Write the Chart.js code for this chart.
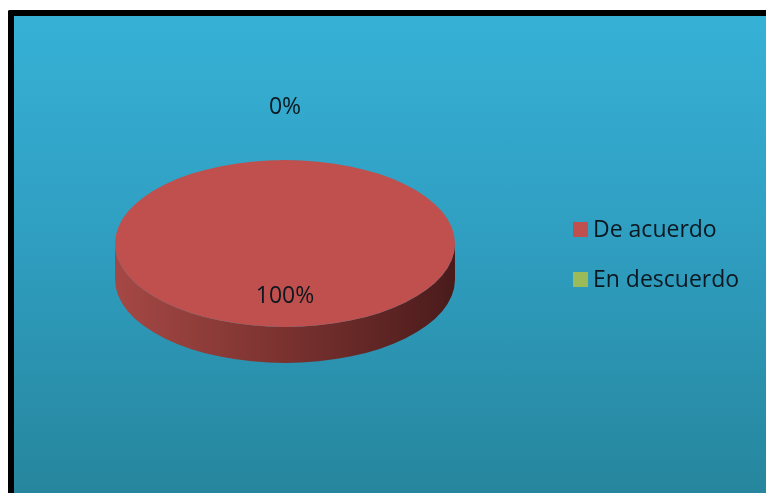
<!DOCTYPE html>
<html>
<head>
<meta charset="utf-8">
<script src="https://cdn.jsdelivr.net/npm/chart.js@4/dist/chart.umd.min.js"></script>
<style>
  html, body { margin: 0; padding: 0; background: #ffffff; width: 766px; height: 493px; overflow: hidden; }
  .frame {
    position: absolute; left: 8px; top: 10px; width: 752px; height: 477px;
    border-left: 6px solid #000; border-top: 6px solid #000;
    border-top-left-radius: 2px;
    background: linear-gradient(to bottom, #36B1D6 0%, #2F9DBF 50%, #26869D 100%);
  }
  canvas { position: absolute; left: 0; top: 0; }
</style>
</head>
<body>
<div class="frame"></div>
<canvas id="c" width="766" height="493"></canvas>
<script>
const categories = ['De acuerdo', 'En descuerdo'];
const values = [100, 0];
const sliceColors = ['#C0504D', '#9BBB59'];
const sideShades = [['#A54845', '#7A322F', '#4A1B1B'], ['#7E9A48', '#5F7436', '#3C4A22']];

const TILT = 0.491;      // vertical squash of the pie top
const DEPTH = 36;        // thickness of the pie wall
const FONT = '"Open Sans", "DejaVu Sans", sans-serif';

// Flattened, extruded pie: walls first, then the squashed top faces.
const pie3d = {
  id: 'pie3d',
  beforeDatasetsDraw(chart) {
    const meta = chart.getDatasetMeta(0);
    const ctx = chart.ctx;
    const { x: cx, y: cy, outerRadius: r } = meta.data[0];
    const ry = r * TILT;
    ctx.save();
    meta.data.forEach((arc, i) => {
      const s = arc.startAngle, e = arc.endAngle;
      for (let k = -1; k <= 1; k++) {
        const off = 2 * Math.PI * k;
        const lo = Math.max(s, off), hi = Math.min(e, Math.PI + off);
        if (hi <= lo) continue;
        const a = lo - off, b = hi - off;
        const g = ctx.createLinearGradient(cx - r, 0, cx + r, 0);
        const sh = sideShades[i];
        g.addColorStop(0, sh[0]);
        g.addColorStop(0.5, sh[1]);
        g.addColorStop(1, sh[2]);
        ctx.beginPath();
        ctx.ellipse(cx, cy, r, ry, 0, a, b);
        ctx.ellipse(cx, cy + DEPTH, r, ry, 0, b, a, true);
        ctx.closePath();
        ctx.fillStyle = g;
        ctx.fill();
      }
    });
    ctx.restore();
    ctx.save();
    ctx.translate(cx, cy);
    ctx.scale(1, TILT);
    ctx.translate(-cx, -cy);
  },
  afterDatasetsDraw(chart) {
    chart.ctx.restore();
  }
};

// Percentage labels and the legend on the right.
const pieText = {
  id: 'pieText',
  afterDraw(chart) {
    const meta = chart.getDatasetMeta(0);
    const ctx = chart.ctx;
    const data = chart.data.datasets[0].data;
    const total = data.reduce((p, v) => p + v, 0);
    ctx.save();
    ctx.fillStyle = '#0B1820';
    ctx.font = '23px ' + FONT;
    ctx.textAlign = 'center';
    ctx.textBaseline = 'alphabetic';
    meta.data.forEach((arc, i) => {
      const { x: cx, y: cy, outerRadius: r } = arc;
      const ry = r * TILT;
      const m = (arc.startAngle + arc.endAngle) / 2;
      const pct = Math.round(data[i] / total * 100);
      let px, py;
      if (pct >= 10) {
        px = cx + 0.62 * r * Math.cos(m);
        py = cy + 0.62 * ry * Math.sin(m);
      } else {
        px = cx + (r + 54) * Math.cos(m);
        py = cy + (ry + 54) * Math.sin(m);
      }
      ctx.fillText(pct + '%', px, py + 8.2);
    });

    ctx.font = '23px ' + FONT;
    ctx.textAlign = 'left';
    chart.data.labels.forEach((lab, i) => {
      const y = 222 + i * 50;
      ctx.fillStyle = chart.data.datasets[0].backgroundColor[i];
      ctx.fillRect(573, y, 15, 15);
      ctx.fillStyle = '#0B1820';
      ctx.fillText(lab, 593, y + 15);
    });
    ctx.restore();
  }
};

new Chart(document.getElementById('c'), {
  type: 'pie',
  data: {
    labels: categories,
    datasets: [{
      data: values,
      backgroundColor: sliceColors,
      borderWidth: 0
    }]
  },
  options: {
    responsive: false,
    animation: false,
    layout: { padding: { left: 115, right: 311, top: 73.5, bottom: 79.5 } },
    plugins: {
      legend: { display: false },
      tooltip: { enabled: false }
    }
  },
  plugins: [pie3d, pieText]
});
</script>
</body>
</html>
